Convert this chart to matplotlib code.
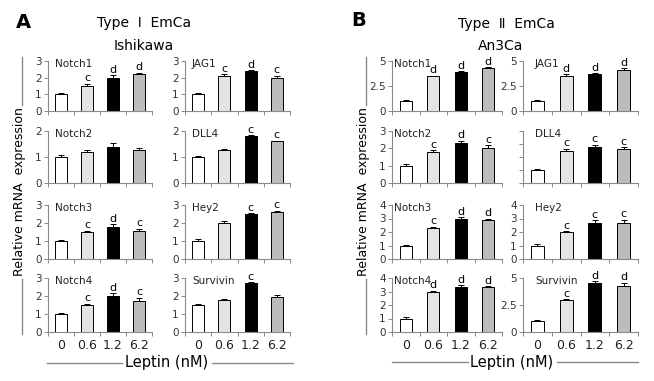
import matplotlib
matplotlib.use('Agg')
import matplotlib.pyplot as plt
from matplotlib.lines import Line2D

plt.rcParams['font.family'] = ['DejaVu Sans', 'Noto Sans CJK SC']

doses = ['0', '0.6', '1.2', '6.2']
bar_colors = ['white', '#e4e4e4', 'black', '#bcbcbc']

# panel A (Ishikawa)
a_genes = ['Notch1', 'JAG1', 'Notch2', 'DLL4', 'Notch3', 'Hey2', 'Notch4', 'Survivin']
a_vals = [[1.0, 1.5, 2.0, 2.2], [1.0, 2.1, 2.4, 2.0],
          [1.0, 1.2, 1.4, 1.27], [1.0, 1.28, 1.8, 1.6],
          [1.0, 1.5, 1.8, 1.58], [1.0, 2.0, 2.48, 2.62],
          [1.0, 1.5, 2.0, 1.7], [1.5, 1.8, 2.7, 1.92]]
a_errs = [[0.07, 0.12, 0.15, 0.08], [0.08, 0.1, 0.05, 0.1],
          [0.07, 0.07, 0.12, 0.07], [0.02, 0.02, 0.03, 0.03],
          [0.03, 0.08, 0.12, 0.1], [0.1, 0.1, 0.05, 0.07],
          [0.03, 0.07, 0.15, 0.2], [0.03, 0.05, 0.07, 0.12]]
a_sig = [['', 'c', 'd', 'd'], ['', 'c', 'd', 'c'],
         ['', '', '', ''], ['', '', 'c', 'c'],
         ['', 'c', 'd', 'c'], ['', '', 'c', 'c'],
         ['', 'c', 'd', 'c'], ['', '', 'c', '']]
a_ticks = [[0, 1, 2, 3], [0, 1, 2, 3], [0, 1, 2], [0, 1, 2],
           [0, 1, 2, 3], [0, 1, 2, 3], [0, 1, 2, 3], [0, 1, 2, 3]]

# panel B (An3Ca)
b_genes = ['Notch1', 'JAG1', 'Notch2', 'DLL4', 'Notch3', 'Hey2', 'Notch4', 'Survivin']
b_vals = [[1.0, 3.45, 3.85, 4.3], [1.0, 3.45, 3.65, 4.05],
          [1.0, 1.78, 2.28, 2.02], [1.0, 2.5, 2.8, 2.65],
          [1.0, 2.3, 3.0, 2.88], [1.0, 2.0, 2.68, 2.7],
          [1.0, 3.0, 3.3, 3.3], [1.0, 3.0, 4.5, 4.3]]
b_errs = [[0.05, 0.08, 0.1, 0.08], [0.05, 0.2, 0.1, 0.2],
          [0.07, 0.12, 0.15, 0.15], [0.08, 0.15, 0.15, 0.1],
          [0.03, 0.07, 0.1, 0.1], [0.1, 0.05, 0.2, 0.2],
          [0.12, 0.07, 0.15, 0.1], [0.15, 0.05, 0.2, 0.25]]
b_sig = [['', 'd', 'd', 'd'], ['', 'd', 'd', 'd'],
         ['', 'c', 'd', 'c'], ['', 'c', 'c', 'c'],
         ['', 'c', 'd', 'd'], ['', 'c', 'c', 'c'],
         ['', 'd', 'd', 'd'], ['', 'c', 'd', 'd']]
b_ticks = [[0, 2.5, 5], [0, 2.5, 5], [0, 1, 2, 3], [0, 1, 2, 3, 4],
           [0, 1, 2, 3, 4], [0, 1, 2, 3, 4], [0, 1, 2, 3, 4], [0, 2.5, 5]]
b_ticklabels_on = [True, True, True, False, True, True, True, True]

W, H = 654, 381
fig = plt.figure(figsize=(W / 100, H / 100), dpi=100)

def px_axes(x0, x1, ytop, ybot):
    return fig.add_axes([x0 / W, 1 - ybot / H, (x1 - x0) / W, (ybot - ytop) / H])

rows = [(61, 111), (131, 183), (205, 259), (278, 332)]
gray = '#8a8a8a'

def draw_panel(cols, label_dx, genes, vals, errs, sig, ticks, show_labels=None):
    for i, gene in enumerate(genes):
        r, c = divmod(i, 2)
        x0, x1 = cols[c]
        ax = px_axes(x0, x1, rows[r][0], rows[r][1])
        xs = range(len(doses))
        ax.bar(xs, vals[i], width=0.45, color=bar_colors, edgecolor='black', linewidth=0.7, zorder=2)
        ax.errorbar(xs, vals[i], yerr=[[0] * 4, errs[i]], fmt='none', ecolor='black',
                    elinewidth=0.7, capsize=2, capthick=0.7, zorder=3)
        top = ticks[i][-1]
        for k, s in enumerate(sig[i]):
            if s:
                ax.text(k, vals[i][k] + errs[i][k] + top * 0.01, s, ha='center', va='bottom',
                        fontsize=8, clip_on=False)
        ax.set_xlim(-0.5, 3.5)
        ax.set_ylim(0, top)
        ax.set_yticks(ticks[i])
        if show_labels is not None and not show_labels[i]:
            ax.set_yticklabels([])
        else:
            ax.set_yticklabels([('%g' % t) for t in ticks[i]])
        ax.set_xticks([-0.5, 0.5, 1.5, 2.5, 3.5], minor=True)
        ax.tick_params(axis='x', which='minor', length=3, color=gray, width=0.7)
        if r == 3:
            ax.set_xticks(list(xs))
            ax.set_xticklabels(doses, fontsize=9, color='#222222')
            ax.tick_params(axis='x', which='major', length=0, pad=5)
        else:
            ax.set_xticks([])
        ax.tick_params(axis='y', length=3, color=gray, width=0.7, labelsize=7.5,
                       labelcolor='#333333', pad=1.5)
        for sp in ['top', 'right']:
            ax.spines[sp].set_visible(False)
        for sp in ['left', 'bottom']:
            ax.spines[sp].set_color(gray)
            ax.spines[sp].set_linewidth(0.8)
        ax.text(label_dx[c] / (x1 - x0), 1.03, gene, transform=ax.transAxes, ha='left',
                va='top', fontsize=7.5, color='#222222')

draw_panel([(48, 152), (185, 290)], [7, 7], a_genes, a_vals, a_errs, a_sig, a_ticks)
draw_panel([(392, 502), (523, 638)], [2, 12], b_genes, b_vals, b_errs, b_sig, b_ticks,
           b_ticklabels_on)

def ftext(x, y, s, **kw):
    fig.text(x / W, 1 - y / H, s, **kw)

def fline(x0, y0, x1, y1):
    fig.add_artist(Line2D([x0 / W, x1 / W], [1 - y0 / H, 1 - y1 / H], color=gray, lw=1,
                          transform=fig.transFigure))

ftext(23, 22, 'A', fontsize=14, fontweight='bold', ha='center', va='center')
ftext(144, 23, 'Type  Ⅰ  EmCa', fontsize=10, ha='center', va='center')
ftext(144, 46, 'Ishikawa', fontsize=10, ha='center', va='center')
ftext(359, 21, 'B', fontsize=14, fontweight='bold', ha='center', va='center')
ftext(506, 24, 'Type  Ⅱ  EmCa', fontsize=10, ha='center', va='center')
ftext(501, 46, 'An3Ca', fontsize=10, ha='center', va='center')

for x in [20, 364]:
    ftext(x, 192, 'Relative mRNA  expression', fontsize=9, rotation=90, ha='center', va='center')
    fline(x + 2, 57, x + 2, 105)
    fline(x + 2, 279, x + 2, 334)

ftext(167, 363, 'Leptin (nM)', fontsize=10.5, ha='center', va='center')
fline(47, 363, 122, 363)
fline(212, 363, 293, 363)
ftext(512, 362, 'Leptin (nM)', fontsize=10.5, ha='center', va='center')
fline(392, 362, 468, 362)
fline(557, 362, 638, 362)

fig.savefig('out.png', dpi=100)
